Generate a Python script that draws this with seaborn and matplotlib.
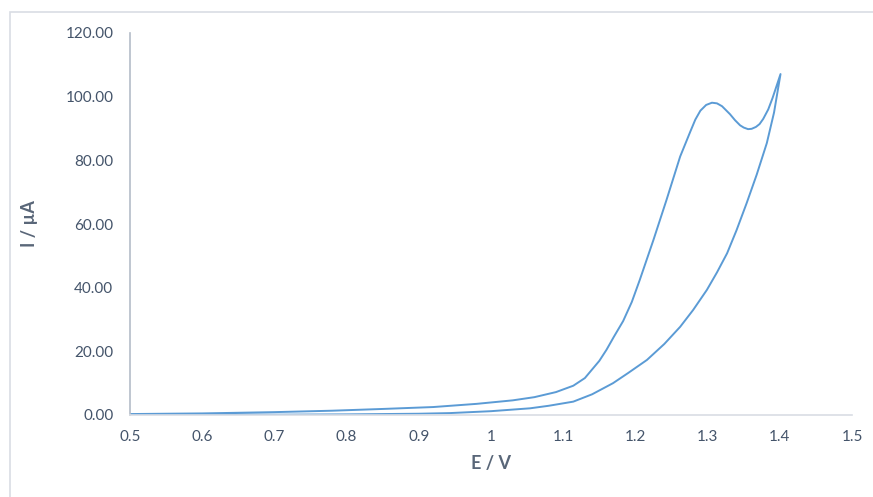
import numpy as np
import pandas as pd
import seaborn as sns
import matplotlib.pyplot as plt
from matplotlib.patches import Rectangle

# Anodic scan (0.5 V -> 1.4 V)
E_fwd = [0.50, 0.60, 0.70, 0.78, 0.85, 0.92, 0.98, 1.03, 1.06, 1.09, 1.114, 1.13,
         1.15, 1.16, 1.17, 1.183, 1.195, 1.206, 1.225, 1.243, 1.262, 1.276, 1.283,
         1.290, 1.298, 1.306, 1.313, 1.320, 1.331, 1.338, 1.345, 1.350, 1.356, 1.361,
         1.367, 1.372, 1.377, 1.384, 1.390, 1.395, 1.401]
I_fwd = [0.3, 0.5, 0.9, 1.35, 1.9, 2.5, 3.5, 4.6, 5.6, 7.2, 9.2, 11.6,
         17.0, 20.5, 24.5, 29.5, 35.5, 42.4, 55.0, 67.5, 81.2, 89.0, 92.8,
         95.6, 97.4, 98.1, 97.9, 97.0, 94.5, 92.6, 91.0, 90.3, 89.8, 89.9,
         90.5, 91.4, 93.0, 96.0, 99.6, 103.0, 107.1]

# Reverse scan (1.4 V -> 0.5 V)
E_rev = [1.401, 1.392, 1.382, 1.368, 1.354, 1.340, 1.327, 1.313, 1.299, 1.280,
         1.262, 1.240, 1.216, 1.190, 1.169, 1.140, 1.114, 1.080, 1.054, 1.00,
         0.943, 0.90, 0.80, 0.70, 0.60, 0.50]
I_rev = [107.1, 95.0, 85.4, 75.5, 66.5, 58.0, 50.8, 44.8, 39.3, 33.0,
         27.7, 22.3, 17.3, 13.2, 10.0, 6.5, 4.2, 2.9, 2.1, 1.2,
         0.6, 0.4, 0.2, 0.1, 0.05, 0.0]

df = pd.DataFrame({"E": E_fwd + E_rev, "I": I_fwd + I_rev})

sns.set_theme(style="white")
plt.rcParams["font.family"] = ["Lato", "DejaVu Sans"]

fig = plt.figure(figsize=(8.73, 4.97), dpi=100)
ax = fig.add_axes([130 / 873, 1 - 415 / 497, 722 / 873, 382 / 497])

sns.lineplot(data=df, x="E", y="I", sort=False, estimator=None,
             color="#5b9bd5", linewidth=1.4, ax=ax)

ax.set_xlim(0.5, 1.5)
ax.set_ylim(0, 120)
ax.set_xticks(np.arange(0.5, 1.51, 0.1))
ax.set_xticklabels(["0.5", "0.6", "0.7", "0.8", "0.9", "1", "1.1", "1.2", "1.3", "1.4", "1.5"])
ax.set_yticks(np.arange(0, 121, 20))
ax.set_yticklabels([f"{v:.2f}" for v in range(0, 121, 20)])
ax.tick_params(axis="both", length=0, labelsize=11, labelcolor="#44546a")
ax.tick_params(axis="x", pad=11)
ax.tick_params(axis="y", pad=12)

for s in ["top", "right"]:
    ax.spines[s].set_visible(False)
ax.spines["left"].set_color("#b4bcc8")
ax.spines["left"].set_linewidth(1.2)
ax.spines["bottom"].set_color("#d9dde4")
ax.spines["bottom"].set_linewidth(1.2)

ax.set_xlabel("E / V", fontsize=13, fontweight="bold", color="#596678", labelpad=8)
ax.set_ylabel("I / µA", fontsize=13, fontweight="bold", color="#596678", labelpad=20)

# outer chart border (Excel chart area)
fig.patches.append(Rectangle((10 / 873, -0.05), 1.0, 1 - 12 / 497 + 0.05,
                             transform=fig.transFigure, fill=False,
                             edgecolor="#d9dde4", linewidth=1.2))

fig.savefig("out.png", dpi=100)
